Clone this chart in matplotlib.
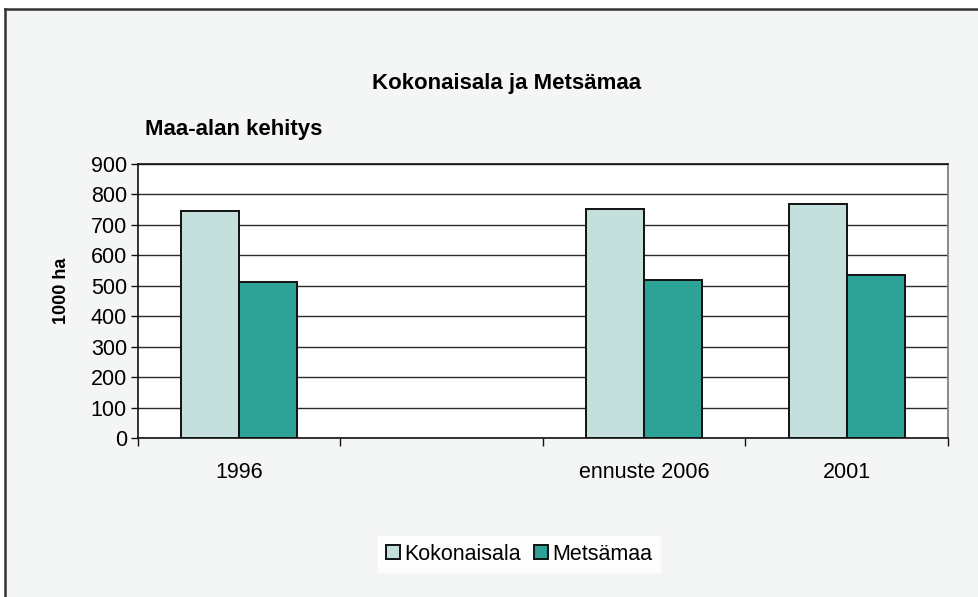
import matplotlib
matplotlib.use("Agg")
import matplotlib.pyplot as plt
import numpy as np
from matplotlib.patches import Rectangle

categories = ["1996", "", "ennuste 2006", "2001"]
kokonaisala = [747, np.nan, 752, 769]
metsamaa = [513, np.nan, 519, 534]
series_names = ["Kokonaisala", "Metsämaa"]
title = "Kokonaisala ja Metsämaa"
subtitle = "Maa-alan kehitys"
ylabel = "1000 ha"

plt.rcParams['font.family'] = ['Liberation Sans', 'DejaVu Sans']

W, H = 979, 597
fig = plt.figure(figsize=(W / 100, H / 100), dpi=100)
fig.patch.set_facecolor("white")

# chart frame background
bg = Rectangle((5 / W, 0), 1.2, 1 - 9 / H, transform=fig.transFigure,
               facecolor="#F4F6F5", edgecolor="none", zorder=-10)
fig.add_artist(bg)
fig.add_artist(plt.Line2D([5 / W, 1], [1 - 9 / H, 1 - 9 / H], transform=fig.transFigure,
                          color="#333333", lw=1.8))
fig.add_artist(plt.Line2D([5 / W, 5 / W], [0, 1 - 9 / H], transform=fig.transFigure,
                          color="#333333", lw=1.8))

ax = fig.add_axes([138 / W, 1 - 438 / H, (948 - 138) / W, (438 - 164) / H])
ax.set_facecolor("white")

x = np.arange(len(categories))
bw = 0.2857
c1, c2 = "#C5E0DC", "#2CA396"
ax.bar(x - bw / 2, kokonaisala, bw, color=c1, edgecolor="#111111", linewidth=1.4,
       label=series_names[0], zorder=3)
ax.bar(x + bw / 2, metsamaa, bw, color=c2, edgecolor="#111111", linewidth=1.4,
       label=series_names[1], zorder=3)

ax.set_xlim(-0.5, len(categories) - 0.5)
ax.set_ylim(0, 900)
ax.set_yticks(np.arange(0, 901, 100))
ax.yaxis.grid(True, color="#2a2a2a", linewidth=1.0, zorder=0)
ax.set_axisbelow(True)

ax.set_xticks(np.arange(-0.5, len(categories), 1.0))
ax.set_xticklabels([])
ax.set_xticks(x, minor=True)
ax.set_xticklabels(categories, minor=True)
ax.tick_params(axis="x", which="major", length=6, width=1, color="#111111", direction="out")
ax.tick_params(axis="x", which="minor", length=0, pad=17, labelsize=15.5)
ax.tick_params(axis="y", length=5, width=1, color="#111111", direction="out", pad=3, labelsize=15.5)

for s in ["top", "left", "bottom"]:
    ax.spines[s].set_color("#111111")
    ax.spines[s].set_linewidth(1.2)
ax.spines["right"].set_color("#777777")
ax.spines["right"].set_linewidth(1.2)

fig.text(507 / W, 1 - 83 / H, title, ha="center", va="center", fontsize=16, fontweight="bold")
fig.text(145 / W, 1 - 130 / H, subtitle, ha="left", va="center", fontsize=16, fontweight="bold")
fig.text(62 / W, 1 - 291 / H, ylabel, ha="center", va="center", rotation=90,
         fontsize=13, fontweight="bold")

leg = fig.legend(loc="center", bbox_to_anchor=(519 / W, 1 - 554 / H), ncol=2,
                 frameon=True, fontsize=15.5, handlelength=0.65, handleheight=0.65,
                 handletextpad=0.2, columnspacing=0.6, borderpad=0.35, fancybox=False)
leg.get_frame().set_facecolor("white")
leg.get_frame().set_edgecolor("white")

fig.savefig("out.png", dpi=100, facecolor=fig.get_facecolor())
